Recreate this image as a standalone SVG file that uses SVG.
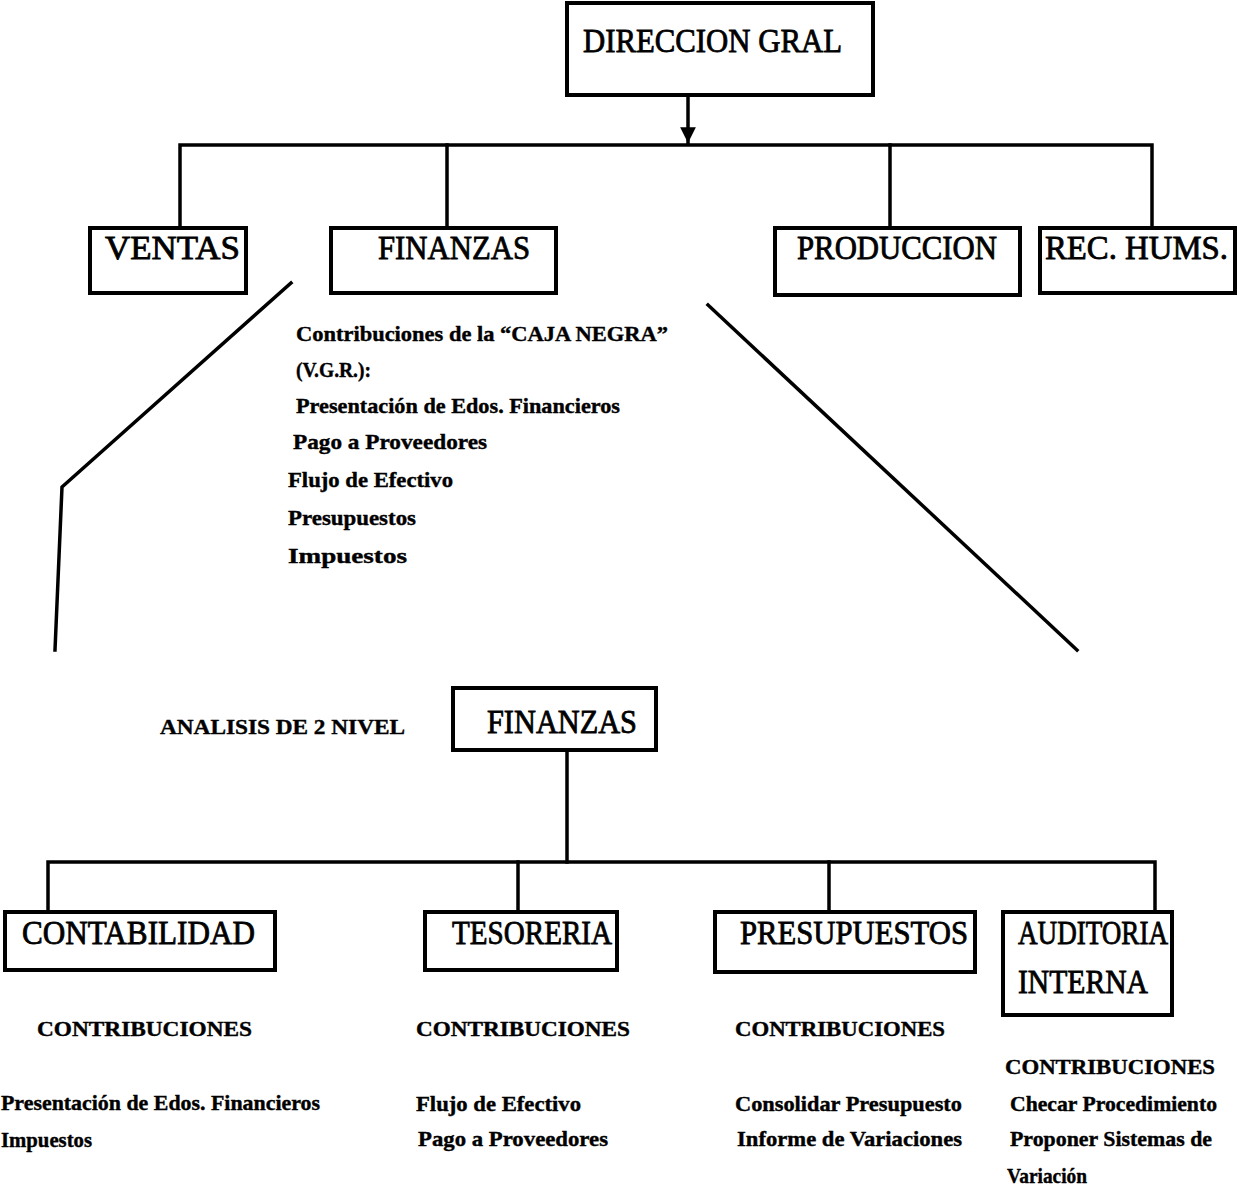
<svg xmlns="http://www.w3.org/2000/svg" width="1237" height="1193" viewBox="0 0 1237 1193">
<defs>
<style>
.box{fill:#fff;stroke:#000;stroke-width:4}
.ln{fill:none;stroke:#000;stroke-width:3.5;stroke-linecap:square}
.bl{font-family:"Liberation Serif","Times New Roman",serif;font-size:33px;fill:#000;stroke:#000;stroke-width:0.8}
.sm{font-family:"Liberation Serif","Times New Roman",serif;font-size:22px;font-weight:bold;fill:#000;stroke:#000;stroke-width:0.4}
</style>
<marker id="ah" viewBox="0 0 10 10" refX="10" refY="5" markerWidth="4.5" markerHeight="4.5" markerUnits="strokeWidth" orient="auto">
<path d="M0,0 L10,5 L0,10 Z" fill="#000"/>
</marker>
</defs>
<rect width="1237" height="1193" fill="#fff"/>
<g id="connectors">
<line class="ln" x1="688" y1="95" x2="688" y2="143" marker-end="url(#ah)"/>
<polyline class="ln" points="180,228 180,145 1152,145 1152,228"/>
<line class="ln" x1="447" y1="145" x2="447" y2="228"/>
<line class="ln" x1="890" y1="145" x2="890" y2="228"/>
<polyline class="ln" points="291,283 62,487 55,650"/>
<line class="ln" x1="708" y1="305" x2="1077" y2="650"/>
<line class="ln" x1="567" y1="750" x2="567" y2="862"/>
<polyline class="ln" points="48,912 48,862 1155,862 1155,912"/>
<line class="ln" x1="518" y1="862" x2="518" y2="912"/>
<line class="ln" x1="829" y1="862" x2="829" y2="912"/>
</g>
<g id="n-direccion">
<rect class="box" x="567" y="3" width="306" height="92"/>
<text class="bl" x="583" y="52" textLength="259" lengthAdjust="spacingAndGlyphs">DIRECCION GRAL</text>
</g>
<g id="n-ventas">
<rect class="box" x="90" y="228" width="156" height="65"/>
<text class="bl" x="105" y="259" textLength="135" lengthAdjust="spacingAndGlyphs">VENTAS</text>
</g>
<g id="n-finanzas">
<rect class="box" x="331" y="228" width="225" height="65"/>
<text class="bl" x="378" y="259" textLength="152" lengthAdjust="spacingAndGlyphs">FINANZAS</text>
</g>
<g id="n-produccion">
<rect class="box" x="775" y="228" width="245" height="67"/>
<text class="bl" x="797" y="259" textLength="200" lengthAdjust="spacingAndGlyphs">PRODUCCION</text>
</g>
<g id="n-rechums">
<rect class="box" x="1040" y="228" width="195" height="65"/>
<text class="bl" x="1045" y="259" textLength="183" lengthAdjust="spacingAndGlyphs">REC. HUMS.</text>
</g>
<g id="t-cajanegra">
<text class="sm" x="296" y="341" textLength="372" lengthAdjust="spacingAndGlyphs">Contribuciones de la “CAJA NEGRA”</text>
<text class="sm" x="296" y="377" textLength="75" lengthAdjust="spacingAndGlyphs">(V.G.R.):</text>
<text class="sm" x="296" y="413" textLength="324" lengthAdjust="spacingAndGlyphs">Presentación de Edos. Financieros</text>
<text class="sm" x="293" y="449" textLength="194" lengthAdjust="spacingAndGlyphs">Pago a  Proveedores</text>
<text class="sm" x="288" y="487" textLength="165" lengthAdjust="spacingAndGlyphs">Flujo de Efectivo</text>
<text class="sm" x="288" y="525" textLength="128" lengthAdjust="spacingAndGlyphs">Presupuestos</text>
<text class="sm" x="288" y="563" textLength="119" lengthAdjust="spacingAndGlyphs">Impuestos</text>
</g>
<g id="t-analisis">
<text class="sm" x="160" y="734" textLength="245" lengthAdjust="spacingAndGlyphs">ANALISIS DE 2 NIVEL</text>
</g>
<g id="n-finanzas2">
<rect class="box" x="453" y="688" width="203" height="62"/>
<text class="bl" x="487" y="733" textLength="150" lengthAdjust="spacingAndGlyphs">FINANZAS</text>
</g>
<g id="n-contabilidad">
<rect class="box" x="5" y="912" width="270" height="58"/>
<text class="bl" x="22" y="944" textLength="233" lengthAdjust="spacingAndGlyphs">CONTABILIDAD</text>
</g>
<g id="n-tesoreria">
<rect class="box" x="425" y="912" width="192" height="58"/>
<text class="bl" x="452" y="944" textLength="160" lengthAdjust="spacingAndGlyphs">TESORERIA</text>
</g>
<g id="n-presupuestos">
<rect class="box" x="715" y="912" width="260" height="60"/>
<text class="bl" x="740" y="944" textLength="228" lengthAdjust="spacingAndGlyphs">PRESUPUESTOS</text>
</g>
<g id="n-auditoria">
<rect class="box" x="1003" y="912" width="169" height="103"/>
<text class="bl" x="1018" y="944" textLength="150" lengthAdjust="spacingAndGlyphs">AUDITORIA</text>
<text class="bl" x="1018" y="993" textLength="130" lengthAdjust="spacingAndGlyphs">INTERNA</text>
</g>
<g id="t-contabilidad">
<text class="sm" x="37" y="1036" textLength="215" lengthAdjust="spacingAndGlyphs">CONTRIBUCIONES</text>
<text class="sm" x="1" y="1110" textLength="319" lengthAdjust="spacingAndGlyphs">Presentación de Edos. Financieros</text>
<text class="sm" x="1" y="1147" textLength="91" lengthAdjust="spacingAndGlyphs">Impuestos</text>
</g>
<g id="t-tesoreria">
<text class="sm" x="416" y="1036" textLength="214" lengthAdjust="spacingAndGlyphs">CONTRIBUCIONES</text>
<text class="sm" x="416" y="1111" textLength="165" lengthAdjust="spacingAndGlyphs">Flujo de Efectivo</text>
<text class="sm" x="418" y="1146" textLength="190" lengthAdjust="spacingAndGlyphs">Pago a Proveedores</text>
</g>
<g id="t-presupuestos">
<text class="sm" x="735" y="1036" textLength="210" lengthAdjust="spacingAndGlyphs">CONTRIBUCIONES</text>
<text class="sm" x="735" y="1111" textLength="227" lengthAdjust="spacingAndGlyphs">Consolidar Presupuesto</text>
<text class="sm" x="737" y="1146" textLength="225" lengthAdjust="spacingAndGlyphs">Informe de Variaciones</text>
</g>
<g id="t-auditoria">
<text class="sm" x="1005" y="1074" textLength="210" lengthAdjust="spacingAndGlyphs">CONTRIBUCIONES</text>
<text class="sm" x="1010" y="1111" textLength="207" lengthAdjust="spacingAndGlyphs">Checar Procedimiento</text>
<text class="sm" x="1010" y="1146" textLength="202" lengthAdjust="spacingAndGlyphs">Proponer Sistemas de</text>
<text class="sm" x="1007" y="1183" textLength="80" lengthAdjust="spacingAndGlyphs">Variación</text>
</g>
</svg>
